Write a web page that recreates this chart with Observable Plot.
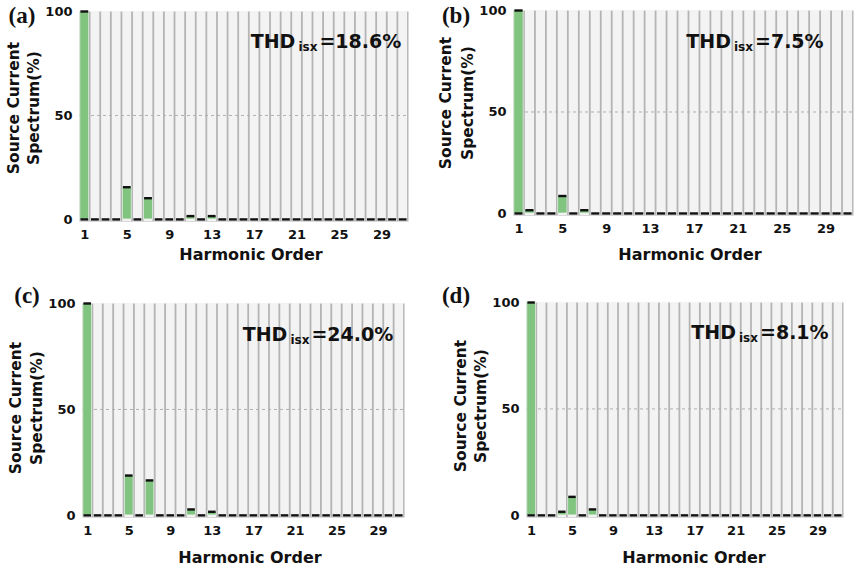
<!DOCTYPE html>
<html><head><meta charset="utf-8">
<script src="https://cdn.jsdelivr.net/npm/d3@7"></script>
<script src="https://cdn.jsdelivr.net/npm/@observablehq/plot@0.6"></script>
<style>
body{margin:0;background:#fff;}
#wrap{position:relative;width:858px;height:571px;overflow:hidden;font-family:"DejaVu Sans",Verdana,sans-serif;}
.panel{position:absolute;}
.ov{position:absolute;white-space:nowrap;font-weight:bold;color:#111;transform:translate(-50%,-50%);line-height:1;}
.rot{transform:translate(-50%,-50%) rotate(-90deg);}
.letter{font-family:"Liberation Serif","Times New Roman",serif;font-size:23px;}
.thd{font-size:19px;}
.thd sub{font-size:12px;vertical-align:-3px;margin:0 2px 0 3px;}
.ylab{font-size:15.5px;}
.xlab{font-size:16px;}
</style></head>
<body><div id="wrap"></div>
<script>
const harmonics = [1,2,3,4,5,6,7,8,9,10,11,12,13,14,15,16,17,18,19,20,21,22,23,24,25,26,27,28,29,30,31];
const xTickLabels = [1,5,9,13,17,21,25,29];
const yTickLabels = [0,50,100];
const spectrumA = [100,0,0,0,15.5,0,10.2,0,0,0,1.6,0,1.6,0,0,0,0,0,0,0,0,0,0,0,0,0,0,0,0,0,0];
const spectrumB = [100,1.6,0,0,8.6,0,1.6,0,0,0,0,0,0,0,0,0,0,0,0,0,0,0,0,0,0,0,0,0,0,0,0];
const spectrumC = [100,0,0,0,18.8,0,16.5,0,0,0,2.8,0,1.7,0,0,0,0,0,0,0,0,0,0,0,0,0,0,0,0,0,0];
const spectrumD = [100,0,0,1.7,8.7,0,2.8,0,0,0,0,0,0,0,0,0,0,0,0,0,0,0,0,0,0,0,0,0,0,0,0];
const panelLetters = ["(a)","(b)","(c)","(d)"];
const thdValues = ["18.6%","7.5%","24.0%","8.1%"];
const zeroCapHarmonics = [1];

const wrap = document.getElementById("wrap");
const layouts = [
  {values: spectrumA, left:0, top:0, width:429, height:270, mL:79, mR:21, mT:11, mB:49,
   letter:[22,15], thd:[326,42], yl1:[15,108], yl2:[35,108], xl:[251,255]},
  {values: spectrumB, left:429, top:0, width:429, height:270, mL:84, mR:5, mT:10, mB:55,
   letter:[456,15], thd:[755,42], yl1:[447,103], yl2:[469,103], xl:[690,255]},
  {values: spectrumC, left:0, top:280, width:429, height:291, mL:82, mR:25, mT:23, mB:54,
   letter:[27,295], thd:[318,335], yl1:[17,408], yl2:[38,408], xl:[250,558]},
  {values: spectrumD, left:429, top:280, width:429, height:291, mL:97, mR:15, mT:22, mB:54,
   letter:[456,295], thd:[760,333], yl1:[462,406], yl2:[482,406], xl:[694,558]}
];

layouts.forEach((L, i) => {
  const data = harmonics.map((h, k) => ({h, v: L.values[k]}));
  const zeroCaps = zeroCapHarmonics.map(h => ({h, v: 0}));
  const chart = Plot.plot({
    width: L.width, height: L.height,
    marginLeft: L.mL, marginRight: L.mR, marginTop: L.mT, marginBottom: L.mB,
    style: {fontFamily: '"DejaVu Sans", Verdana, sans-serif', fontSize: "13px", fontWeight: "bold", color: "#111", background: "transparent"},
    x: {type: "band", domain: harmonics, padding: 0, round: false, ticks: xTickLabels, tickSize: 0, tickPadding: 8, label: null},
    y: {domain: [-1, 100], ticks: yTickLabels, tickSize: 0, tickPadding: 7, label: null},
    marks: [
      Plot.frame({fill: "#b4b4b4", stroke: null}),
      Plot.barY(data, {x: "h", y1: -1, y2: 100, fill: "#f3f3f3", insetLeft: 0.9, insetRight: 0.9}),
      Plot.ruleY([50], {stroke: "#b0b0b0", strokeDasharray: "3,3", strokeWidth: 1}),
      Plot.barY(data, {x: "h", y1: 0, y2: "v", fill: "#80c480", stroke: "#e6f4e6", strokeWidth: 0.6, insetLeft: 0.9, insetRight: 0.9}),
      Plot.tickY(data, {x: "h", y: "v", stroke: "#111", strokeWidth: 2.4, inset: 1.4}),
      Plot.tickY(zeroCaps, {x: "h", y: "v", stroke: "#111", strokeWidth: 2.4, inset: 1.4})
    ]
  });
  chart.classList.add("panel");
  chart.style.left = L.left + "px";
  chart.style.top = L.top + "px";
  wrap.appendChild(chart);

  const add = (cls, html, pos) => {
    const d = document.createElement("div");
    d.className = "ov " + cls;
    d.innerHTML = html;
    d.style.left = pos[0] + "px";
    d.style.top = pos[1] + "px";
    wrap.appendChild(d);
  };
  add("letter", panelLetters[i], L.letter);
  add("thd", "THD<sub>isx</sub>=" + thdValues[i], L.thd);
  add("ylab rot", "Source Current", L.yl1);
  add("ylab rot", "Spectrum(%)", L.yl2);
  add("xlab", "Harmonic Order", L.xl);
});
</script></body></html>
